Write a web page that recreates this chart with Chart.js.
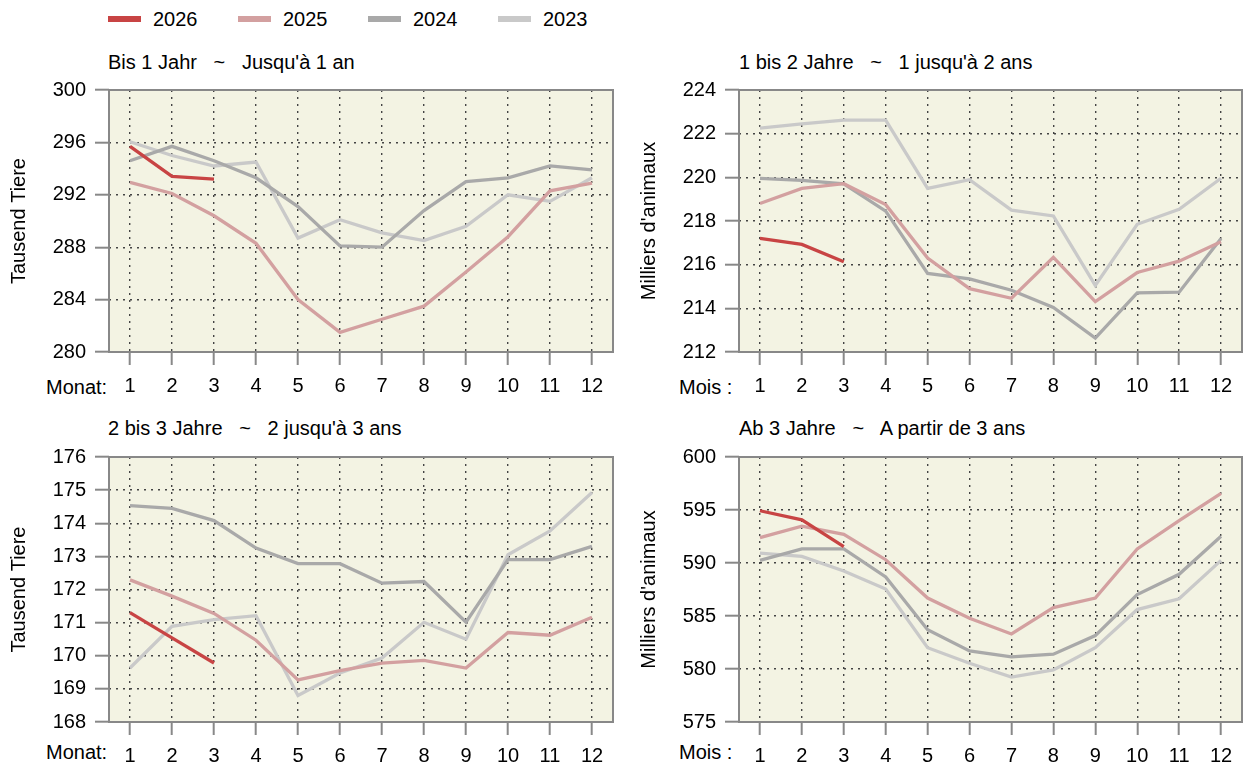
<!DOCTYPE html>
<html>
<head>
<meta charset="utf-8">
<script src="https://cdn.jsdelivr.net/npm/chart.js@4/dist/chart.umd.min.js"></script>
<style>
  html, body { margin:0; padding:0; background:#fff; overflow:hidden; }
  body { width:1243px; height:762px; position:relative; font-family:"Liberation Sans", Arial, sans-serif; color:#000; }
  canvas { position:absolute; }
  .txt { position:absolute; font-size:20px; white-space:pre; line-height:24px; }
  .sw { position:absolute; width:33px; height:6px; }
</style>
</head>
<body>
<div id="legend"></div>
<div class="txt" style="left:108px;top:50px;">Bis 1 Jahr   ~   Jusqu'à 1 an</div>
<div class="txt" style="left:739px;top:50px;">1 bis 2 Jahre   ~   1 jusqu'à 2 ans</div>
<div class="txt" style="left:108px;top:416px;">2 bis 3 Jahre   ~   2 jusqu'à 3 ans</div>
<div class="txt" style="left:739px;top:416px;">Ab 3 Jahre   ~   A partir de 3 ans</div>
<div class="txt" style="left:46px;top:375px;">Monat:</div>
<div class="txt" style="left:679px;top:375px;">Mois :</div>
<div class="txt" style="left:46px;top:740px;">Monat:</div>
<div class="txt" style="left:679px;top:740px;">Mois :</div>
<canvas id="c1" width="620" height="323" style="left:0px;top:69px;"></canvas>
<canvas id="c2" width="623" height="323" style="left:620px;top:69px;"></canvas>
<canvas id="c3" width="620" height="326" style="left:0px;top:436px;"></canvas>
<canvas id="c4" width="623" height="326" style="left:620px;top:436px;"></canvas>
<script>
// ---- data ----
const months = ['1','2','3','4','5','6','7','8','9','10','11','12'];
const years = ['2026','2025','2024','2023'];
const yearColors = ['#C84444','#D3A0A0','#A9A9A9','#C9C9C9'];

// Bis 1 Jahr (Tausend Tiere)
const bis1_2026 = [295.7, 293.4, 293.2];
const bis1_2025 = [292.95, 292.1, 290.4, 288.3, 284.0, 281.5, 282.5, 283.5, 286.1, 288.8, 292.3, 292.9];
const bis1_2024 = [294.6, 295.7, 294.6, 293.3, 291.1, 288.1, 288.0, 290.8, 293.0, 293.3, 294.2, 293.9];
const bis1_2023 = [296.05, 295.0, 294.2, 294.5, 288.7, 290.1, 289.1, 288.5, 289.6, 292.0, 291.5, 293.3];

// 1 bis 2 Jahre
const j1bis2_2026 = [217.2, 216.93, 216.13];
const j1bis2_2025 = [218.8, 219.49, 219.71, 218.75, 216.3, 214.9, 214.46, 216.34, 214.31, 215.64, 216.16, 217.05];
const j1bis2_2024 = [219.95, 219.86, 219.7, 218.45, 215.6, 215.35, 214.83, 214.04, 212.64, 214.71, 214.74, 217.2];
const j1bis2_2023 = [222.25, 222.45, 222.62, 222.62, 219.49, 219.89, 218.5, 218.23, 215.05, 217.85, 218.54, 219.96];

// 2 bis 3 Jahre
const j2bis3_2026 = [171.3, 170.54, 169.78];
const j2bis3_2025 = [172.29, 171.8, 171.28, 170.47, 169.27, 169.55, 169.78, 169.86, 169.63, 170.7, 170.62, 171.16];
const j2bis3_2024 = [174.53, 174.45, 174.08, 173.25, 172.78, 172.78, 172.19, 172.24, 171.01, 172.9, 172.9, 173.3];
const j2bis3_2023 = [169.63, 170.89, 171.09, 171.21, 168.8, 169.48, 169.93, 171.01, 170.5, 173.05, 173.77, 174.93];

// Ab 3 Jahre
const ab3_2026 = [594.93, 594.07, 591.54];
const ab3_2025 = [592.4, 593.48, 592.71, 590.31, 586.69, 584.78, 583.3, 585.79, 586.69, 591.33, 594.0, 596.56];
const ab3_2024 = [590.25, 591.33, 591.33, 588.68, 583.7, 581.7, 581.15, 581.4, 583.15, 587.02, 588.93, 592.53];
const ab3_2023 = [590.93, 590.62, 589.24, 587.55, 582.01, 580.54, 579.24, 579.92, 582.01, 585.61, 586.62, 590.25];

// ---- legend ----
const legend = document.getElementById('legend');
years.forEach((y, i) => {
  const x = 108 + i * 130;
  const sw = document.createElement('div');
  sw.className = 'sw';
  sw.style.left = x + 'px'; sw.style.top = '16px'; sw.style.background = yearColors[i];
  legend.appendChild(sw);
  const t = document.createElement('div');
  t.className = 'txt';
  t.style.left = (x + 45) + 'px'; t.style.top = '7px';
  t.textContent = y;
  legend.appendChild(t);
});

// ---- charts ----
const FONT = { family: '"Liberation Sans", Arial, sans-serif', size: 20 };
const frame = {
  id: 'frame',
  beforeDraw(chart) {
    const { ctx, chartArea: a } = chart;
    ctx.save();
    ctx.fillStyle = '#F3F3E3';
    ctx.fillRect(a.left, a.top, a.right - a.left, a.bottom - a.top);
    ctx.restore();
  },
  afterDraw(chart) {
    const { ctx, chartArea: a } = chart;
    ctx.save();
    ctx.strokeStyle = '#888888';
    ctx.lineWidth = 2;
    ctx.strokeRect(a.left, a.top, a.right - a.left, a.bottom - a.top);
    ctx.restore();
  }
};

function makeChart(id, series, yMin, yMax, step, yTitle, yWidth, titlePad, padRight) {
  return new Chart(document.getElementById(id), {
    type: 'line',
    data: {
      labels: months,
      datasets: years.map((y, i) => ({
        label: y, data: series[i], borderColor: yearColors[i], backgroundColor: yearColors[i],
        borderWidth: 3.3, pointRadius: 0, tension: 0, fill: false
      }))
    },
    options: {
      responsive: false, animation: false,
      layout: { padding: { top: 12, right: padRight, left: 0, bottom: 0 } },
      plugins: { legend: { display: false }, tooltip: { enabled: false }, title: { display: false } },
      scales: {
        x: {
          type: 'category', offset: true,
          grid: { color: '#444', lineWidth: 1.4, tickLength: 13, tickColor: '#888', tickWidth: 2, offset: false },
          border: { display: false, dash: [2, 5] },
          ticks: { color: '#000', font: FONT, padding: 9, maxRotation: 0, autoSkip: false },
          afterFit: s => { s.height = 40; }
        },
        y: {
          min: yMin, max: yMax,
          ticks: { stepSize: step, color: '#000', font: FONT, padding: 9 },
          grid: { color: '#444', lineWidth: 1.4, tickLength: 14, tickColor: '#888', tickWidth: 2 },
          border: { display: false, dash: [2, 5] },
          title: { display: true, text: yTitle, color: '#000', font: FONT, padding: { top: titlePad, bottom: 0 } },
          afterFit: s => { s.width = yWidth; }
        }
      }
    },
    plugins: [frame]
  });
}

makeChart('c1', [bis1_2026, bis1_2025, bis1_2024, bis1_2023], 280, 300, 4, 'Tausend Tiere', 109, 7, 7);
makeChart('c2', [j1bis2_2026, j1bis2_2025, j1bis2_2024, j1bis2_2023], 212, 224, 2, "Milliers d'animaux", 119, 17, 1);
makeChart('c3', [j2bis3_2026, j2bis3_2025, j2bis3_2024, j2bis3_2023], 168, 176, 1, 'Tausend Tiere', 109, 7, 7);
makeChart('c4', [ab3_2026, ab3_2025, ab3_2024, ab3_2023], 575, 600, 5, "Milliers d'animaux", 119, 17, 1);
</script>
</body>
</html>
